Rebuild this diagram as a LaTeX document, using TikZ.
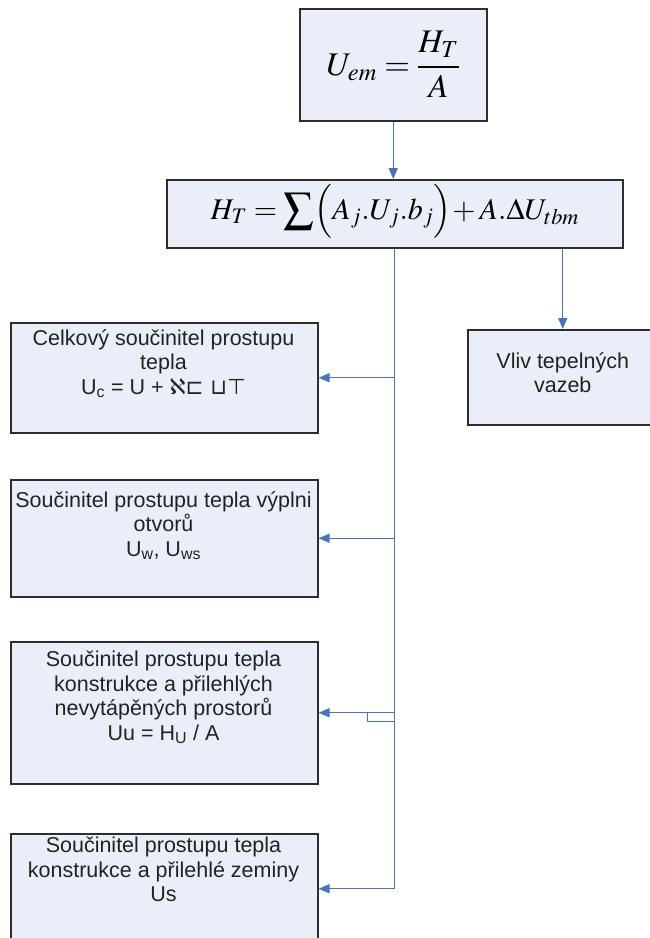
\documentclass[tikz,border=0pt]{standalone}
\usepackage{mathptmx}
\usepackage[no-math]{fontspec}
\setmainfont{Liberation Sans}
\newfontfamily\symfnt{DejaVu Sans}
\usetikzlibrary{arrows.meta}
\definecolor{boxfill}{RGB}{233,238,248}
\definecolor{boxline}{RGB}{45,45,45}
\definecolor{arrowcol}{RGB}{74,116,186}
\definecolor{textcol}{RGB}{34,34,34}
\begin{document}
\begin{tikzpicture}[x=1pt,y=-1pt,
  box/.style={draw=boxline, fill=boxfill, line width=1.5pt, inner sep=0pt, anchor=north west},
  txt/.style={align=center, inner sep=0pt, anchor=north, font=\fontsize{21.5}{24.5}\selectfont, text=textcol},
  mtha/.style={inner sep=0pt, font=\fontsize{33}{40}\selectfont, text=black},
  mthb/.style={inner sep=0pt, font=\fontsize{30}{36}\selectfont, text=black},
  conn/.style={draw=arrowcol, line width=1.4pt},
  arr/.style={conn, -{Triangle[length=11pt,width=9pt]}}]
\useasboundingbox (0,0) rectangle (650,938);

% boxes
\node[box, minimum width=187pt, minimum height=112pt] (top) at (299,8) {};
\node[box, minimum width=456pt, minimum height=68pt] (ht) at (166,179) {};
\node[box, minimum width=190pt, minimum height=95pt] (vliv) at (467,329) {};
\node[box, minimum width=307pt, minimum height=110pt] (b1) at (10,322) {};
\node[box, minimum width=307pt, minimum height=117pt] (b2) at (10,479) {};
\node[box, minimum width=307pt, minimum height=142pt] (b3) at (10,641) {};
\node[box, minimum width=307pt, minimum height=110pt] (b4) at (10,833) {};

% formulas
\node[mtha] (topf) at (top.center) {$\displaystyle U_{em}=\frac{H_T}{A}$};
\node[mthb] (htf) at ([yshift=2pt]ht.center) {$\displaystyle H_T=\sum\Bigl(A_j.U_j.b_j\Bigr)\!+A.\Delta U_{tbm}$};

% texts
\node[txt] (t1) at (163.5,329) {Celkový součinitel prostupu\\tepla\\U\textsubscript{c} = U + {\symfnt ℵ⊏ ⊔⊤}};
\node[txt] (t2) at (163.5,491) {Součinitel prostupu tepla výplni\\otvorů\\U\textsubscript{w}, U\textsubscript{ws}};
\node[txt] (t3) at (163.5,651) {Součinitel prostupu tepla\\konstrukce a přilehlých\\nevytápěných prostorů\\Uu = H\textsubscript{U} / A};
\node[txt] (t4) at (163.5,837) {Součinitel prostupu tepla\\konstrukce a přilehlé zeminy\\Us};
\node[txt] (tv) at (vliv.north |- 0,352) {Vliv tepelných\\vazeb};

% connectors
\draw[arr] (top.south) -- (top.south |- ht.north);
\draw[arr] (vliv.north |- ht.south) -- (vliv.north);
\draw[arr] (ht.south) |- (b4.east);
\draw[arr] (ht.south |- b1.east) -- (b1.east);
\draw[arr] (ht.south |- b2.east) -- (b2.east);
\draw[arr] (ht.south |- b3.east) -- (b3.east);
\draw[conn] (ht.south |- b3.east) ++(0,9) -- ++(-27,0) -- ++(0,-9);
\end{tikzpicture}
\end{document}
